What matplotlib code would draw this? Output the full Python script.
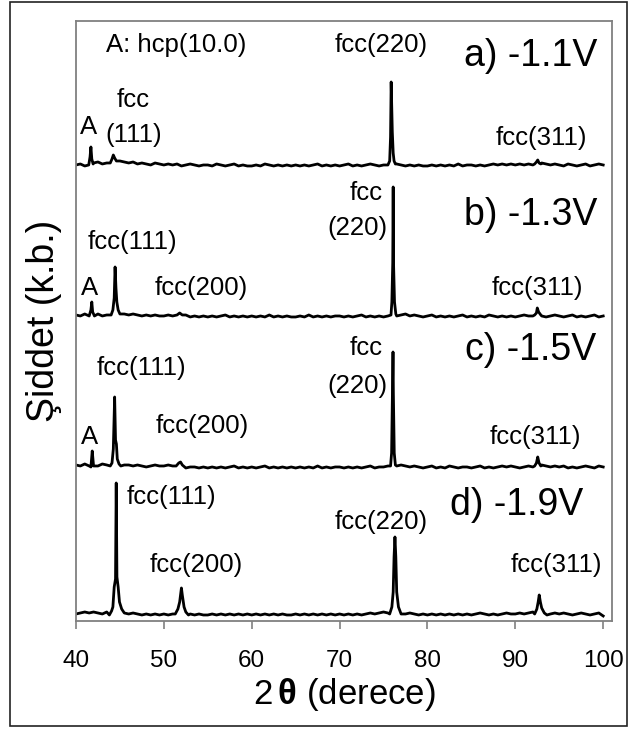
import matplotlib.pyplot as plt
import numpy as np
from matplotlib.patches import Rectangle

plt.rcParams['font.family'] = ['Liberation Sans', 'DejaVu Sans']
plt.rcParams['mathtext.fontset'] = 'custom'
plt.rcParams['mathtext.bf'] = 'Liberation Sans:bold'
plt.rcParams['mathtext.rm'] = 'Liberation Sans'

# baseline grid, 40..100 deg every 0.5 deg (121 points)
grid = np.linspace(40, 100, 121)

# baseline wiggle (arb. units above its baseline)
a_noise = [2, 3, 1, 2, 4, 5, 3, 4, 6, 5,
           6, 5, 4, 5, 3, 4, 3, 2, 4, 3,
           2, 3, 2, 3, 1, 2, 3, 2, 1, 2,
           2, 1, 3, 2, 1, 2, 3, 1, 2, 1,
           1, 2, 1, 3, 2, 1, 2, 1, 2, 1,
           2, 1, 2, 1, 2, 3, 1, 2, 1, 2,
           1, 2, 3, 1, 2, 1, 2, 3, 2, 1,
           2, 1, 2, 3, 2, 1, 2, 1, 2, 1,
           1, 2, 1, 2, 1, 2, 1, 3, 1, 2,
           2, 1, 2, 1, 2, 3, 2, 3, 2, 3,
           2, 3, 2, 3, 2, 3, 4, 3, 2, 3,
           2, 1, 3, 2, 1, 2, 3, 1, 2, 3,
           2]
b_noise = [3, 2, 4, 3, 2, 4, 2, 3, 5, 6,
           5, 4, 3, 4, 3, 2, 3, 2, 3, 2,
           2, 3, 2, 4, 2, 3, 1, 2, 1, 2,
           1, 2, 1, 2, 3, 1, 2, 1, 2, 1,
           2, 1, 2, 1, 3, 1, 2, 1, 2, 1,
           1, 2, 1, 3, 1, 2, 1, 2, 1, 2,
           2, 1, 2, 1, 2, 3, 1, 2, 1, 2,
           1, 2, 3, 2, 3, 4, 2, 3, 2, 1,
           2, 3, 1, 2, 1, 2, 1, 2, 3, 1,
           2, 1, 2, 1, 3, 2, 1, 2, 1, 2,
           1, 2, 3, 2, 2, 3, 2, 1, 2, 3,
           2, 1, 2, 3, 1, 2, 1, 2, 3, 1,
           2]
c_noise = [4, 3, 5, 3, 4, 3, 5, 4, 4, 6,
           5, 4, 4, 3, 4, 3, 2, 3, 4, 3,
           3, 4, 3, 2, 3, 1, 2, 2, 1, 2,
           1, 2, 1, 2, 1, 2, 3, 1, 2, 1,
           2, 1, 2, 3, 1, 2, 1, 2, 1, 2,
           1, 2, 1, 2, 1, 3, 1, 2, 1, 2,
           2, 1, 2, 1, 2, 1, 2, 3, 1, 2,
           2, 3, 2, 3, 4, 3, 2, 3, 2, 1,
           2, 3, 1, 2, 1, 3, 2, 1, 2, 2,
           1, 2, 3, 1, 2, 1, 2, 3, 2, 3,
           2, 1, 2, 3, 2, 3, 4, 3, 2, 3,
           2, 3, 1, 2, 1, 2, 3, 2, 1, 3,
           2]
d_noise = [3, 4, 5, 4, 5, 4, 3, 5, 1, 2,
           6, 4, 3, 4, 3, 2, 3, 2, 3, 2,
           3, 2, 3, 4, 5, 4, 3, 2, 3, 2,
           2, 3, 2, 3, 2, 3, 2, 3, 2, 3,
           2, 3, 2, 3, 2, 3, 2, 3, 2, 2,
           3, 2, 3, 2, 3, 2, 3, 2, 3, 2,
           3, 2, 3, 2, 3, 2, 3, 4, 3, 4,
           5, 4, 3, 4, 5, 3, 4, 3, 2, 3,
           2, 3, 2, 3, 2, 3, 2, 3, 2, 3,
           2, 3, 4, 3, 2, 3, 2, 3, 4, 3,
           3, 4, 3, 4, 5, 4, 5, 4, 3, 4,
           3, 4, 3, 2, 3, 4, 3, 2, 3, 4,
           1]

# peaks: (2theta, height above baseline)
a_peaks = [
    [(41.45, 2), (41.6, 10), (41.7, 20), (41.8, 8), (41.95, 3)],
    [(43.9, 4), (44.1, 8), (44.25, 12), (44.4, 9), (44.6, 6)],
    [(75.5, 2), (75.7, 6), (75.8, 30), (75.87, 85), (75.93, 60), (76.0, 35),
     (76.1, 14), (76.2, 6), (76.35, 3)],
    [(92.2, 3), (92.4, 5), (92.55, 7), (92.7, 4), (92.9, 3)],
]
b_peaks = [
    [(41.5, 2), (41.7, 8), (41.8, 16), (41.9, 6), (42.1, 2)],
    [(44.0, 3), (44.2, 8), (44.35, 20), (44.45, 51), (44.55, 30), (44.65, 16),
     (44.8, 8), (45.0, 4)],
    [(51.5, 3), (51.8, 5), (52.1, 3)],
    [(75.85, 3), (75.95, 16), (76.05, 55), (76.1, 131), (76.14, 55),
     (76.25, 16), (76.4, 4)],
    [(92.2, 3), (92.4, 5), (92.5, 10), (92.65, 6), (92.9, 3)],
]
c_peaks = [
    [(41.7, 2), (41.85, 18), (42.0, 3)],
    [(43.9, 3), (44.1, 6), (44.25, 20), (44.4, 72), (44.5, 29), (44.6, 25),
     (44.7, 10), (44.9, 5), (45.1, 3)],
    [(51.4, 3), (51.7, 6), (51.9, 7), (52.1, 4)],
    [(75.8, 3), (75.92, 16), (76.02, 76), (76.08, 117), (76.12, 76),
     (76.22, 16), (76.35, 4)],
    [(92.2, 3), (92.4, 6), (92.55, 12), (92.7, 6), (92.9, 3)],
]
d_peaks = [
    [(43.8, 2), (44.05, 6), (44.2, 10), (44.35, 30), (44.5, 38), (44.58, 134),
     (44.66, 40), (44.8, 30), (44.95, 15), (45.2, 8), (45.5, 4)],
    [(51.3, 3), (51.6, 8), (51.8, 15), (52.0, 29), (52.1, 22), (52.3, 10),
     (52.5, 5), (52.8, 2)],
    [(75.7, 3), (75.95, 10), (76.1, 25), (76.2, 60), (76.3, 80), (76.4, 60),
     (76.5, 25), (76.7, 10), (77.0, 3)],
    [(92.2, 3), (92.45, 8), (92.6, 15), (92.72, 22), (92.85, 15), (93.0, 9),
     (93.3, 4), (93.6, 2)],
]

offsets = [454, 303, 152, 4]


def build(noise, peaks, offset):
    x = grid.copy()
    y = np.array(noise, dtype=float)
    keep = np.ones(len(x), dtype=bool)
    for pk in peaks:
        lo, hi = pk[0][0], pk[-1][0]
        keep &= ~((x >= lo) & (x <= hi))
    px = [p[0] for pk in peaks for p in pk]
    py = [p[1] for pk in peaks for p in pk]
    xs = np.concatenate([x[keep], px])
    ys = np.concatenate([y[keep], py])
    order = np.argsort(xs)
    return xs[order], ys[order] + offset


fig = plt.figure(figsize=(6.3, 7.31), dpi=100)
ax = fig.add_axes([0.1206, 0.1505, 0.8508, 0.8208])

for noise, peaks, off in zip([a_noise, b_noise, c_noise, d_noise],
                             [a_peaks, b_peaks, c_peaks, d_peaks], offsets):
    xs, ys = build(noise, peaks, off)
    ax.plot(xs, ys, color='black', lw=2.0)

ax.set_xlim(40, 101)
ax.set_ylim(0, 600)
ax.set_xticks([40, 50, 60, 70, 80, 90, 100])
ax.set_yticks([])
for s in ax.spines.values():
    s.set_color('#808080')
    s.set_linewidth(1.3)
ax.tick_params(axis='x', direction='out', length=6, width=1.2, color='#808080',
               labelsize=17.5, pad=15)

ax.set_xlabel(r'2$\,\mathbf{θ}$ (derece)', fontsize=25, labelpad=3)
ax.set_ylabel('Şiddet (k.b.)', fontsize=27, labelpad=10)

fs = 18.5
big = 27
# panel a
ax.text(51.4, 576, 'A: hcp(10.0)', fontsize=fs, ha='center', va='center')
ax.text(74.7, 576, 'fcc(220)', fontsize=fs, ha='center', va='center')
ax.text(91.7, 565, 'a) -1.1V', fontsize=big, ha='center', va='center')
ax.text(41.4, 494, 'A', fontsize=fs, ha='center', va='center')
ax.text(46.5, 521, 'fcc', fontsize=fs, ha='center', va='center')
ax.text(46.6, 486, '(111)', fontsize=fs, ha='center', va='center')
ax.text(93.0, 483, 'fcc(311)', fontsize=fs, ha='center', va='center')
# panel b
ax.text(74.85, 428, 'fcc', fontsize=fs, ha='right', va='center')
ax.text(75.4, 393, '(220)', fontsize=fs, ha='right', va='center')
ax.text(91.7, 406, 'b) -1.3V', fontsize=big, ha='center', va='center')
ax.text(46.4, 379, 'fcc(111)', fontsize=fs, ha='center', va='center')
ax.text(41.5, 333, 'A', fontsize=fs, ha='center', va='center')
ax.text(54.2, 333, 'fcc(200)', fontsize=fs, ha='center', va='center')
ax.text(92.5, 333, 'fcc(311)', fontsize=fs, ha='center', va='center')
# panel c
ax.text(74.85, 273, 'fcc', fontsize=fs, ha='right', va='center')
ax.text(75.4, 235, '(220)', fontsize=fs, ha='right', va='center')
ax.text(91.7, 271, 'c) -1.5V', fontsize=big, ha='center', va='center')
ax.text(47.5, 253, 'fcc(111)', fontsize=fs, ha='center', va='center')
ax.text(41.5, 184, 'A', fontsize=fs, ha='center', va='center')
ax.text(54.4, 195, 'fcc(200)', fontsize=fs, ha='center', va='center')
ax.text(92.3, 184, 'fcc(311)', fontsize=fs, ha='center', va='center')
# panel d
ax.text(50.9, 124, 'fcc(111)', fontsize=fs, ha='center', va='center')
ax.text(53.7, 56, 'fcc(200)', fontsize=fs, ha='center', va='center')
ax.text(74.7, 99, 'fcc(220)', fontsize=fs, ha='center', va='center')
ax.text(90.1, 116, 'd) -1.9V', fontsize=big, ha='center', va='center')
ax.text(94.7, 56, 'fcc(311)', fontsize=fs, ha='center', va='center')

# outer frame around the whole figure
fig.patches.append(Rectangle((0.0159, 0.0068), 0.9794, 0.9905, transform=fig.transFigure,
                             fill=False, edgecolor='#222222', lw=1.2))

fig.savefig('out.png', dpi=100)
